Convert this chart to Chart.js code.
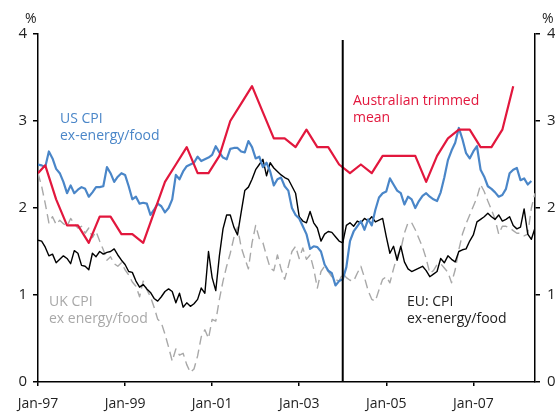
<!DOCTYPE html>
<html>
<head>
<meta charset="utf-8">
<script src="https://cdn.jsdelivr.net/npm/chart.js@4.4.1/dist/chart.umd.min.js"></script>
<style>
  html, body { margin: 0; padding: 0; background: #fff; }
  #wrap { width: 555px; height: 413px; }
</style>
</head>
<body>
<div id="wrap"><canvas id="cpiChart"></canvas></div>
<script>
// x = months since Jan-97
var tickLabels = ['Jan-97', 'Jan-99', 'Jan-01', 'Jan-03', 'Jan-05', 'Jan-07'];
var tickMonths = [0, 24, 48, 72, 96, 120];
var lastMonth = 137;
var breakMonth = 84; // Jan-04, vertical line

// Australian trimmed mean, quarterly (first value at Jan-97, then every quarter end from Mar-97)
var auValues = [2.40, 2.49, 2.10, 1.80, 1.80, 1.60, 1.90, 1.90, 1.70, 1.70, 1.60, 1.95,
  2.30, 2.50, 2.70, 2.40, 2.40, 2.60, 3.00, 3.20, 3.40, 3.10, 2.80, 2.80,
  2.70, 2.90, 2.70, 2.70, 2.50, 2.40, 2.50, 2.40, 2.60, 2.60, 2.60, 2.60,
  2.30, 2.60, 2.80, 2.90, 2.90, 2.70, 2.70, 2.90, 3.40];

// US CPI ex-energy/food, monthly from Jan-97
var usValues = [2.50, 2.49, 2.47, 2.65, 2.57, 2.45, 2.40, 2.30, 2.17, 2.26, 2.17, 2.21,
  2.24, 2.22, 2.13, 2.18, 2.24, 2.24, 2.25, 2.47, 2.40, 2.30, 2.36, 2.40,
  2.38, 2.25, 2.10, 2.13, 2.05, 2.06, 2.05, 1.92, 1.98, 2.05, 2.02, 1.95,
  2.00, 2.10, 2.38, 2.33, 2.42, 2.48, 2.50, 2.52, 2.59, 2.54, 2.56, 2.58,
  2.61, 2.71, 2.64, 2.58, 2.56, 2.68, 2.69, 2.69, 2.65, 2.64, 2.77, 2.70,
  2.57, 2.59, 2.47, 2.52, 2.42, 2.26, 2.33, 2.35, 2.25, 2.20, 2.00, 1.92,
  1.88, 1.79, 1.70, 1.53, 1.56, 1.55, 1.50, 1.35, 1.28, 1.25, 1.11, 1.16,
  1.18, 1.32, 1.62, 1.73, 1.79, 1.85, 1.75, 1.87, 1.80, 1.98, 2.12, 2.17,
  2.19, 2.34, 2.27, 2.20, 2.17, 2.04, 2.13, 2.10, 2.00, 2.08, 2.14, 2.17,
  2.13, 2.10, 2.08, 2.18, 2.35, 2.55, 2.66, 2.75, 2.92, 2.79, 2.63, 2.57,
  2.65, 2.71, 2.44, 2.36, 2.25, 2.22, 2.18, 2.13, 2.15, 2.22, 2.40, 2.44,
  2.46, 2.32, 2.34, 2.27, 2.31];

// EU CPI ex-energy/food, monthly from Jan-97
var euValues = [1.63, 1.62, 1.55, 1.45, 1.47, 1.37, 1.41, 1.45, 1.42, 1.36, 1.51, 1.48,
  1.34, 1.33, 1.29, 1.48, 1.44, 1.50, 1.47, 1.49, 1.50, 1.53, 1.46, 1.40,
  1.35, 1.27, 1.26, 1.16, 1.09, 1.12, 1.07, 1.03, 0.96, 0.93, 0.98, 1.04,
  1.07, 1.04, 0.91, 1.02, 0.86, 0.91, 0.87, 0.90, 0.95, 1.08, 1.02, 1.50,
  1.20, 1.05, 1.45, 1.76, 1.92, 1.92, 1.78, 1.69, 1.95, 2.20, 2.24, 2.33,
  2.44, 2.50, 2.56, 2.37, 2.52, 2.46, 2.42, 2.38, 2.35, 2.33, 2.25, 2.17,
  1.90, 1.85, 1.83, 1.96, 1.83, 1.77, 1.62, 1.70, 1.73, 1.72, 1.67, 1.62,
  1.60, 1.80, 1.83, 1.79, 1.85, 1.83, 1.88, 1.85, 1.90, 1.84, 1.86, 1.88,
  1.67, 1.48, 1.56, 1.40, 1.56, 1.38, 1.30, 1.27, 1.29, 1.31, 1.33, 1.28,
  1.21, 1.24, 1.27, 1.42, 1.37, 1.45, 1.41, 1.38, 1.50, 1.52, 1.53, 1.62,
  1.69, 1.84, 1.87, 1.90, 1.94, 1.90, 1.87, 1.92, 1.85, 1.87, 1.90, 1.80,
  1.76, 1.78, 1.99, 1.70, 1.64, 1.77];

// UK CPI ex energy/food, monthly from Jan-97
var ukValues = [2.40, 2.25, 2.05, 1.83, 1.90, 1.81, 1.86, 1.82, 1.79, 1.88, 1.82, 1.77,
  1.79, 1.71, 1.77, 1.66, 1.73, 1.62, 1.52, 1.40, 1.44, 1.36, 1.33, 1.37,
  1.29, 1.23, 1.15, 1.10, 0.98, 1.16, 1.06, 0.98, 0.86, 0.72, 0.68, 0.55,
  0.40, 0.24, 0.38, 0.31, 0.33, 0.20, 0.11, 0.15, 0.30, 0.52, 0.60, 0.50,
  0.72, 0.70, 0.95, 1.16, 1.33, 1.48, 1.66, 1.78, 1.55, 1.42, 1.30, 1.60,
  1.80, 1.65, 1.60, 1.45, 1.31, 1.28, 1.46, 1.30, 1.18, 1.33, 1.50, 1.56,
  1.42, 1.54, 1.41, 1.46, 1.30, 1.08, 1.27, 1.33, 1.27, 1.21, 1.18, 1.16,
  1.25, 1.20, 1.17, 1.16, 1.25, 1.33, 1.20, 1.05, 0.95, 0.93, 1.06, 1.18,
  1.21, 1.14, 1.30, 1.45, 1.52, 1.71, 1.83, 1.83, 1.75, 1.65, 1.55, 1.42,
  1.25, 1.28, 1.35, 1.36, 1.31, 1.26, 1.14, 1.29, 1.52, 1.70, 1.82, 1.92,
  2.02, 2.12, 2.27, 2.19, 2.08, 1.98, 1.87, 1.70, 1.79, 1.79, 1.77, 1.74,
  1.71, 1.71, 1.68, 1.70, 2.00, 2.17];

function monthly(values) {
  return values.map(function (v, i) { return { x: i, y: v }; });
}
function quarterly(values) {
  return values.map(function (v, i) { return { x: i === 0 ? 0 : 2 + 3 * (i - 1), y: v }; });
}

var FONT = "'Open Sans', sans-serif";
var RED = '#e2173d';
var BLUE = '#4a86c8';
var GREY = '#a8a8a8';

// labels on the chart + the % signs
var textPlugin = {
  id: 'labels',
  afterDatasetsDraw: function (chart) {
    var ctx = chart.ctx;
    ctx.save();
    ctx.font = '14px ' + FONT;
    ctx.textBaseline = 'alphabetic';
    ctx.textAlign = 'left';
    ctx.fillStyle = '#222';
    ctx.fillText('%', 25, 23);
    ctx.fillText('%', 542, 23);
    ctx.fillStyle = BLUE;
    ctx.fillText('US CPI', 60, 123);
    ctx.fillText('ex-energy/food', 60, 140);
    ctx.fillStyle = RED;
    ctx.fillText('Australian trimmed', 353, 105);
    ctx.fillText('mean', 353, 122);
    ctx.fillStyle = GREY;
    ctx.fillText('UK CPI', 49, 306);
    ctx.fillText('ex energy/food', 49, 323);
    ctx.fillStyle = '#222';
    ctx.fillText('EU: CPI', 407, 306);
    ctx.fillText('ex-energy/food', 407, 323);
    ctx.restore();
  }
};

var ctx = document.getElementById('cpiChart').getContext('2d');
var chart = new Chart(ctx, {
  type: 'line',
  data: {
    datasets: [
      {
        label: 'break',
        data: [{ x: breakMonth, y: 0 }, { x: breakMonth, y: 3.93 }],
        borderColor: '#000', borderWidth: 2, pointRadius: 0, order: 0
      },
      {
        label: 'Australian trimmed mean',
        data: quarterly(auValues),
        borderColor: RED, borderWidth: 2.2, pointRadius: 0, order: 1
      },
      {
        label: 'US CPI ex-energy/food',
        data: monthly(usValues),
        borderColor: BLUE, borderWidth: 2.2, pointRadius: 0, order: 2
      },
      {
        label: 'EU: CPI ex-energy/food',
        data: monthly(euValues),
        borderColor: '#000', borderWidth: 1.4, pointRadius: 0, order: 3
      },
      {
        label: 'UK CPI ex energy/food',
        data: monthly(ukValues),
        borderColor: GREY, borderWidth: 1.4, borderDash: [9, 5], pointRadius: 0, order: 4
      }
    ]
  },
  options: {
    responsive: true,
    maintainAspectRatio: false,
    animation: false,
    layout: { padding: { top: 34, left: 0, right: 0, bottom: 0 } },
    plugins: { legend: { display: false }, tooltip: { enabled: false } },
    elements: { line: { tension: 0, borderJoinStyle: 'round' } },
    scales: {
      x: {
        type: 'linear', min: 0, max: lastMonth,
        afterBuildTicks: function (scale) {
          scale.ticks = tickMonths.map(function (m) { return { value: m }; });
        },
        afterFit: function (scale) { scale.height = 31; },
        ticks: {
          autoSkip: false, maxRotation: 0, padding: 10,
          color: '#222', font: { family: FONT, size: 14 },
          callback: function (value) { return tickLabels[tickMonths.indexOf(value)]; }
        },
        grid: { drawOnChartArea: false, drawTicks: true, tickLength: 4, color: '#000', lineWidth: 1.5 },
        border: { display: true, color: '#000', width: 1.5 }
      },
      y: {
        position: 'left', min: 0, max: 4,
        afterFit: function (scale) { scale.width = 38; },
        ticks: { stepSize: 1, padding: 6, color: '#222', font: { family: FONT, size: 15 } },
        grid: { drawOnChartArea: false, drawTicks: true, tickLength: 5, color: '#000', lineWidth: 1.5 },
        border: { display: true, color: '#000', width: 1.5 }
      },
      y2: {
        position: 'right', min: 0, max: 4,
        afterFit: function (scale) { scale.width = 20; },
        ticks: { stepSize: 1, padding: 7, color: '#222', font: { family: FONT, size: 15 } },
        grid: { drawOnChartArea: false, drawTicks: true, tickLength: 5, color: '#000', lineWidth: 1.5 },
        border: { display: true, color: '#000', width: 1.5 }
      }
    }
  },
  plugins: [textPlugin]
});
</script>
</body>
</html>
